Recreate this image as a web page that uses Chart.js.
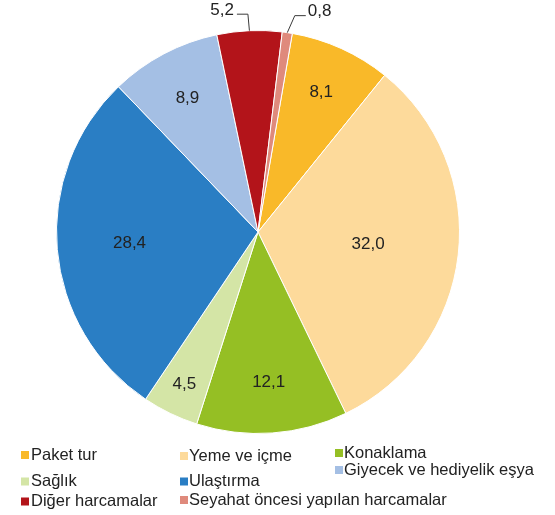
<!DOCTYPE html>
<html>
<head>
<meta charset="utf-8">
<script src="https://cdn.jsdelivr.net/npm/chart.js@4"></script>
<style>
  html, body { margin: 0; padding: 0; background: #ffffff; }
  #wrap { width: 555px; height: 515px; }
</style>
</head>
<body>
<div id="wrap"><canvas id="c" width="555" height="515"></canvas></div>
<script>
// ---- data ----
const categories = [
  'Paket tur',
  'Yeme ve içme',
  'Konaklama',
  'Sağlık',
  'Ulaştırma',
  'Giyecek ve hediyelik eşya',
  'Diğer harcamalar',
  'Seyahat öncesi yapılan harcamalar'
];
const shares = [8.1, 32.0, 12.1, 4.5, 28.4, 8.9, 5.2, 0.8];
const sliceColors = ['#F9B929', '#FDDA9B', '#95BF24', '#D4E5A6', '#2A7EC4', '#A4BFE4', '#B3141A', '#DF8A7C'];

// ---- label / legend styling ----
const FONT = '"Liberation Sans", Arial, sans-serif';
const TEXT_COLOR = '#222222';
const insideFrac = [0.76, 0.55, 0.75, 0.84, 0.64, 0.75, null, null];
const outsideLabel = {
  6: { elbow: [-1.5, -16.5], tail: -11, align: 'right', gap: -3 },
  7: { elbow: [7.5, -17], tail: 11, align: 'left', gap: 2 }
};
const legendPos = [
  { sx: 21, tx: 31, y: 455 },
  { sx: 180, tx: 189, y: 456 },
  { sx: 335, tx: 344, y: 453 },
  { sx: 21, tx: 31, y: 481.5 },
  { sx: 180, tx: 189, y: 481.5 },
  { sx: 335, tx: 344, y: 470 },
  { sx: 21, tx: 31, y: 501.5 },
  { sx: 180, tx: 189, y: 500 }
];

function fmt(v) { return v.toFixed(1).replace('.', ','); }

const sliceLabels = {
  id: 'sliceLabels',
  afterDatasetsDraw(chart) {
    const ctx = chart.ctx;
    const meta = chart.getDatasetMeta(0);
    ctx.save();
    ctx.font = '17px ' + FONT;
    ctx.fillStyle = TEXT_COLOR;
    ctx.textBaseline = 'middle';
    meta.data.forEach((arc, i) => {
      const p = arc.getProps(['x', 'y', 'startAngle', 'endAngle', 'outerRadius'], true);
      const mid = (p.startAngle + p.endAngle) / 2;
      const text = fmt(chart.data.datasets[0].data[i]);
      const out = outsideLabel[i];
      if (!out) {
        const r = p.outerRadius * insideFrac[i];
        ctx.textAlign = 'center';
        ctx.fillText(text, p.x + Math.cos(mid) * r, p.y + Math.sin(mid) * r);
      } else {
        const ax = p.x + Math.cos(mid) * p.outerRadius;
        const ay = p.y + Math.sin(mid) * p.outerRadius;
        const ex = ax + out.elbow[0], ey = ay + out.elbow[1];
        const tx = ex + out.tail;
        ctx.beginPath();
        ctx.strokeStyle = '#3a3a3a';
        ctx.lineWidth = 1;
        ctx.moveTo(ax, ay);
        ctx.lineTo(ex, ey);
        ctx.lineTo(tx, ey);
        ctx.stroke();
        ctx.textAlign = out.align;
        ctx.fillText(text, tx + out.gap, ey - 4);
      }
    });
    ctx.restore();
  },
  afterDraw(chart) {
    const ctx = chart.ctx;
    const ds = chart.data.datasets[0];
    ctx.save();
    ctx.font = '16.5px ' + FONT;
    ctx.textBaseline = 'middle';
    ctx.textAlign = 'left';
    chart.data.labels.forEach((lab, i) => {
      const lp = legendPos[i];
      ctx.fillStyle = ds.backgroundColor[i];
      ctx.fillRect(lp.sx, lp.y - 4, 8, 8);
      ctx.fillStyle = TEXT_COLOR;
      ctx.fillText(lab, lp.tx, lp.y);
    });
    ctx.restore();
  }
};

new Chart(document.getElementById('c'), {
  type: 'pie',
  data: {
    labels: categories,
    datasets: [{
      data: shares,
      backgroundColor: sliceColors,
      borderColor: '#ffffff',
      borderWidth: 1
    }]
  },
  options: {
    responsive: false,
    devicePixelRatio: 1,
    animation: false,
    rotation: 9.8,
    layout: { padding: { left: 56, right: 95, top: 30, bottom: 81 } },
    plugins: {
      legend: { display: false },
      tooltip: { enabled: false }
    }
  },
  plugins: [sliceLabels]
});
</script>
</body>
</html>
